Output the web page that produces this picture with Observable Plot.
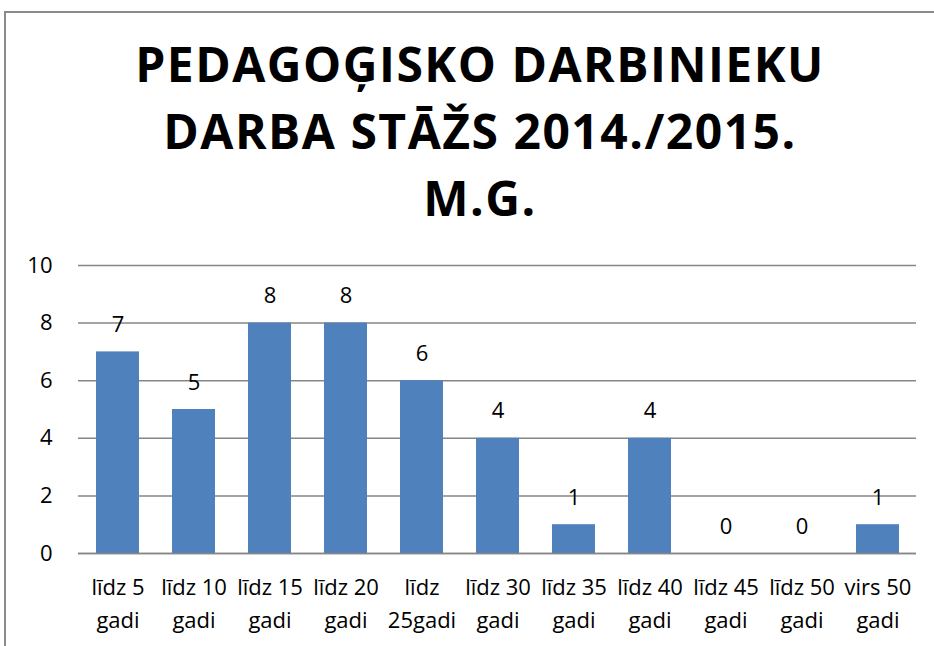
<!DOCTYPE html>
<html>
<head>
<meta charset="utf-8">
<script src="https://cdn.jsdelivr.net/npm/d3@7"></script>
<script src="https://cdn.jsdelivr.net/npm/@observablehq/plot@0.6"></script>
<style>
  html, body { margin: 0; padding: 0; background: #fff; width: 934px; height: 646px; overflow: hidden; }
  #frame { position: absolute; left: 4px; top: 11px; width: 1000px; height: 700px; border: 2px solid #8a8a8a; box-sizing: border-box; }
  #title { position: absolute; left: 0; top: 30px; width: 960px; text-align: center; font-family: "Open Sans", sans-serif; font-weight: 700; font-size: 48px; line-height: 67px; letter-spacing: 1.5px; color: #000; }
  #chart { position: absolute; left: 0; top: 240px; }
</style>
</head>
<body>
<div id="frame"></div>
<div id="title">PEDAGOĢISKO DARBINIEKU<br>DARBA STĀŽS 2014./2015.<br>M.G.</div>
<div id="chart"></div>
<script>
const categories = ["līdz 5\ngadi", "līdz 10\ngadi", "līdz 15\ngadi", "līdz 20\ngadi", "līdz\n25gadi", "līdz 30\ngadi", "līdz 35\ngadi", "līdz 40\ngadi", "līdz 45\ngadi", "līdz 50\ngadi", "virs 50\ngadi"];
const values = [7, 5, 8, 8, 6, 4, 1, 4, 0, 0, 1];
const yTicks = [0, 2, 4, 6, 8, 10];

const data = categories.map((c, i) => ({cat: c, val: values[i]}));

const chart = Plot.plot({
  width: 934,
  height: 406,
  marginLeft: 78,
  marginRight: 18,
  marginTop: 25,
  marginBottom: 93,
  style: { fontFamily: "'Open Sans', sans-serif", fontSize: "22px", color: "#000", background: "transparent" },
  x: { domain: categories, paddingInner: 0.436, paddingOuter: 0.218, label: null },
  y: { domain: [0, 10], ticks: yTicks, label: null },
  marks: [
    Plot.gridY(yTicks, { stroke: "#868686", strokeOpacity: 1, strokeWidth: 1.5 }),
    Plot.barY(data, { x: "cat", y: "val", fill: "#4F81BD" }),
    Plot.ruleY([0], { stroke: "#868686", strokeWidth: 1.5 }),
    Plot.text(data, { x: "cat", y: "val", text: d => String(d.val), dy: -27, fontSize: 22, fill: "#000" }),
    Plot.axisY({ ticks: yTicks, tickSize: 0, tickPadding: 26, fontSize: 22, label: null }),
    Plot.axisX({ tickSize: 0, tickPadding: 18, fontSize: 22, lineHeight: 1.5, label: null })
  ]
});
document.getElementById("chart").appendChild(chart);
</script>
</body>
</html>
